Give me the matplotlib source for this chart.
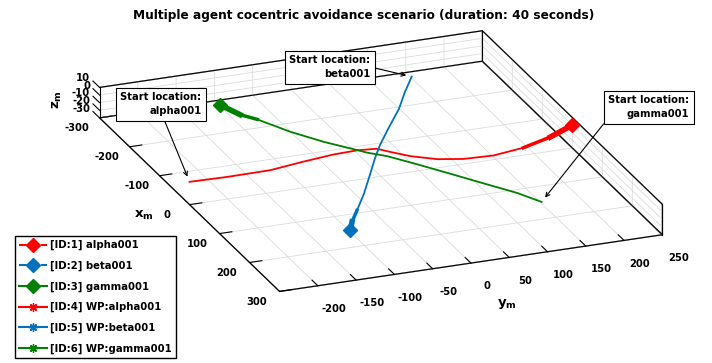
import matplotlib
matplotlib.use("Agg")
import matplotlib.pyplot as plt
from matplotlib.text import Annotation
from mpl_toolkits.mplot3d import proj3d

# agent trajectories in the horizontal plane (metres), flown at z = 0
alpha_x = [0, 2, 1, -10, -18, -20, -16, -1, 21, 42, 53, 56, 46, 26, 0]
alpha_y = [-250, -202, -145, -97, -55, -23, 1, 12, 30, 57, 87, 125, 168, 211, 250]

beta_x = [-216.5, -173, -126, -72, -26, 11, 58, 114, 160, 192, 216.5]
beta_y = [125, 99, 73, 38, 9, -12, -37, -67, -94, -113, -125]

gamma_x = [216.5, 179, 135, 92, 48, 11, -9, -25, -60, -105, -157, -179, -216.5]
gamma_y = [125, 108, 81, 55, 28, 4, -15, -26, -51, -77, -100, -114, -125]

agent_names = ["alpha001", "beta001", "gamma001"]
agent_ids = [1, 2, 3]
waypoint_ids = [4, 5, 6]
agent_colours = ["#ff0000", "#0072bd", "#008000"]
agent_styles = ["--", "--", "-"]

x_lim = [-300, 300]
y_lim = [-250, 250]
z_lim = [-30, 10]
x_ticks = [-300, -200, -100, 0, 100, 200, 300]
y_ticks = [-200, -150, -100, -50, 0, 50, 100, 150, 200, 250]
z_ticks = [-30, -20, -10, 0, 10]

title = "Multiple agent cocentric avoidance scenario (duration: 40 seconds)"


class Annotation3D(Annotation):
    """Annotation whose arrow points at a 3D data location."""

    def __init__(self, text, xyz, *args, **kwargs):
        super().__init__(text, xy=(0, 0), *args, **kwargs)
        self._xyz = xyz

    def draw(self, renderer):
        x2, y2, _ = proj3d.proj_transform(*self._xyz, self.axes.M)
        self.xy = (x2, y2)
        super().draw(renderer)


plt.rcParams["font.family"] = "DejaVu Sans"
plt.rcParams["font.weight"] = "bold"
plt.rcParams["mathtext.fontset"] = "dejavusans"
plt.rcParams["axes.unicode_minus"] = False

fig = plt.figure(figsize=(7.12, 3.63), dpi=100)
ax = fig.add_axes([0.2754, 0.047, 0.5056, 0.9917], projection="3d")
ax.set_proj_type("ortho")
ax.computed_zorder = False
ax.set_xlim(*x_lim)
ax.set_ylim(*y_lim)
ax.set_zlim(*z_lim)
ax.set_box_aspect((600, 500, 40), zoom=1.734)
ax.view_init(elev=22.2, azim=-21.4)

ax.set_xticks(x_ticks)
ax.set_yticks(y_ticks)
ax.set_zticks([])  # z ticks, labels and wall grid are drawn by hand below
ax.zaxis.label.set_visible(False)
ax.tick_params(labelsize=7.2)
ax.tick_params(axis="x", pad=0)
ax.tick_params(axis="y", pad=4)

grid_colour = "#dcdcdc"
for axis in (ax.xaxis, ax.yaxis, ax.zaxis):
    axis.pane.fill = False
    axis.pane.set_edgecolor("k")
    axis.line.set_color("k")
    axis.line.set_linewidth(0.8)
    axis._axinfo["grid"].update(color=grid_colour, linewidth=0.6)
    axis._axinfo["tick"].update(inward_factor=0.0, outward_factor=0.4)

ax.xaxis.set_rotate_label(False)
ax.yaxis.set_rotate_label(False)
ax.set_xlabel(r"$\mathbf{x_m}$", fontsize=9.5, labelpad=-5)
ax.set_ylabel(r"$\mathbf{y_m}$", fontsize=9.5, labelpad=6)

x0, x1 = x_lim
y0, y1 = y_lim
z0, z1 = z_lim

# z axis on the front-left corner: wall grid, ticks pointing back along x,
# and labels above and behind the corner
for z in z_ticks:
    ax.plot([x0, x0], [y0, y1], [z, z], color=grid_colour, lw=0.6, clip_on=False)
    ax.plot([x0, x1], [y1, y1], [z, z], color=grid_colour, lw=0.6, clip_on=False)
    ax.plot([x0, x0 - 22], [y0, y0], [z, z], color="k", lw=0.8, clip_on=False)
    ax.text(x0 - 32, y0, z, str(z), ha="right", va="center", fontsize=7.2)
fig.text(57 / 712, 1 - 100 / 363, r"$\mathbf{z_m}$", rotation=90,
         ha="center", va="center", fontsize=9.5)

# back box edges drawn over the grid
edge_kw = dict(color="k", lw=0.8, clip_on=False)
ax.plot([x0, x0], [y0, y1], [z1, z1], **edge_kw)
ax.plot([x0, x1], [y1, y1], [z1, z1], **edge_kw)
ax.plot([x0, x0], [y0, y1], [z0, z0], **edge_kw)
ax.plot([x0, x1], [y1, y1], [z0, z0], **edge_kw)
ax.plot([x0, x0], [y0, y0], [z0, z1], **edge_kw)
ax.plot([x0, x0], [y1, y1], [z0, z1], **edge_kw)
ax.plot([x1, x1], [y1, y1], [z0, z1], **edge_kw)

paths = [(alpha_x, alpha_y), (beta_x, beta_y), (gamma_x, gamma_y)]
agent_handles = []
wp_handles = []
for (xs, ys), name, aid, wid, c, ls in zip(paths, agent_names, agent_ids,
                                           waypoint_ids, agent_colours, agent_styles):
    ax.plot(xs, ys, 0, color=c, lw=1.3, clip_on=False)
    # heading trail near the goal
    ax.plot(xs[-3:], ys[-3:], 0, color=c, lw=2.5, clip_on=False)
    ax.plot(xs[-2:], ys[-2:], 0, color=c, lw=4.0, clip_on=False)
    wp, = ax.plot(xs[-1:], ys[-1:], 0, ls="-", marker=(8, 2, 0), ms=6,
                  color=c, clip_on=False, label="[ID:%d] WP:%s" % (wid, name))
    ag, = ax.plot(xs[-1:], ys[-1:], 0, ls=ls, marker="D", ms=7, color=c,
                  clip_on=False, label="[ID:%d] %s" % (aid, name))
    agent_handles.append(ag)
    wp_handles.append(wp)

# start location call-outs, text placed in figure pixels
label_pos = [(161, 259), (330, 296), (649, 256)]
arrow_rel = [(0.52, 0.0), (1.0, 0.5), (0.0, 0.05)]
for (xs, ys), name, pos, rel in zip(paths, agent_names, label_pos, arrow_rel):
    a = Annotation3D("Start location:\n%s" % name, (xs[0], ys[0], 0),
                     xytext=pos, textcoords="figure pixels",
                     ha="center", va="center", multialignment="right",
                     fontsize=7.2, fontweight="bold", linespacing=1.5,
                     annotation_clip=False,
                     bbox=dict(boxstyle="square,pad=0.45", fc="white",
                               ec="k", lw=0.8),
                     arrowprops=dict(arrowstyle="->", color="k", lw=0.8,
                                     shrinkA=0, shrinkB=4, relpos=rel))
    a.set_clip_on(False)
    ax.add_artist(a)

handles = agent_handles + wp_handles
fig.legend(handles, [h.get_label() for h in handles], loc="upper left",
           bbox_to_anchor=(15 / 712, 1 - 236 / 363), borderaxespad=0,
           handlelength=2.8, labelspacing=1.03, fancybox=False,
           edgecolor="k", framealpha=1, handletextpad=0.3,
           prop={"weight": "bold", "size": 7.3})

fig.text(0.5105, 1 - 15 / 363, title, ha="center", va="center",
         fontsize=8.7, fontweight="bold")

fig.savefig("out.png", dpi=100)
